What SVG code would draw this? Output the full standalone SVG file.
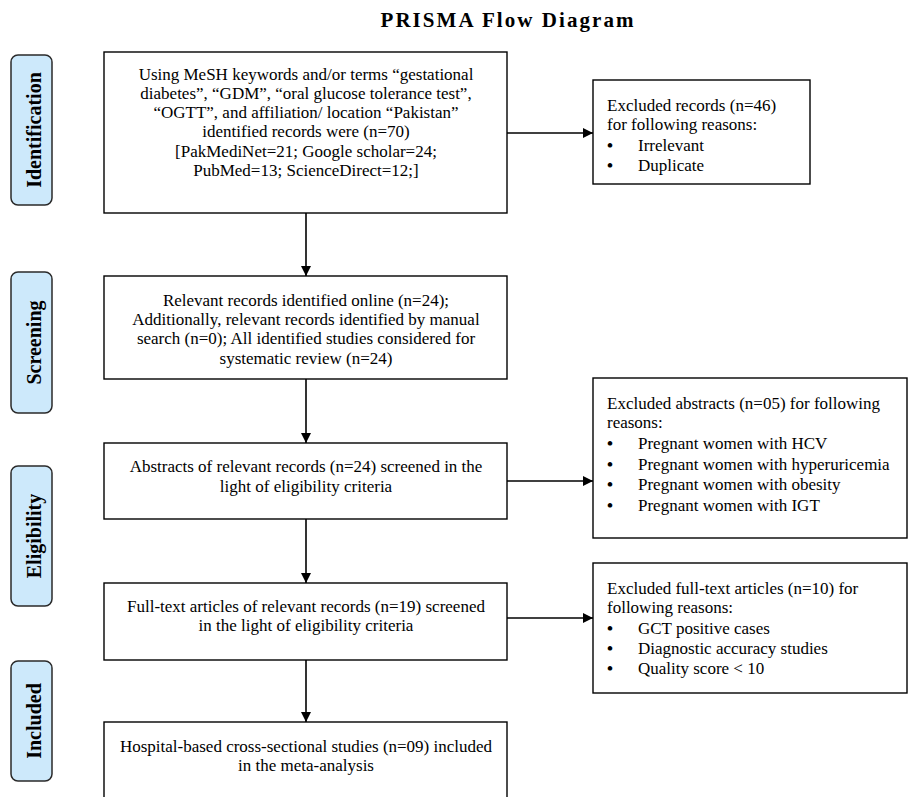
<svg xmlns="http://www.w3.org/2000/svg" width="908" height="797" viewBox="0 0 908 797">
<style>
.box{fill:#fff;stroke:#000;stroke-width:1.4}
.lab{fill:#cde9fb;stroke:#2a2a2a;stroke-width:1.5}
.t{font-family:"Liberation Serif","Times New Roman",serif;font-size:17px;fill:#000}
.b{font-family:"Liberation Serif","Times New Roman",serif;font-size:17px;font-weight:bold;fill:#000}
.c{text-anchor:middle}
.side{font-family:"Liberation Serif","Times New Roman",serif;font-size:20px;font-weight:bold;fill:#000;text-anchor:middle}
.title{font-family:"Liberation Serif","Times New Roman",serif;font-size:21px;font-weight:bold;fill:#000;text-anchor:middle}
.con line{stroke:#000;stroke-width:1.6;marker-end:url(#ah)}
</style>
<defs>
<marker id="ah" markerUnits="userSpaceOnUse" markerWidth="11" markerHeight="11" refX="10" refY="5" orient="auto">
<path d="M0,0 L10,5 L0,10 z" fill="#000"/>
</marker>
</defs>
<rect width="908" height="797" fill="#fff"/>
<text class="title" x="507" y="27" textLength="253" lengthAdjust="spacing">PRISMA Flow Diagram</text>

<g id="lab-identification"><rect class="lab" x="11" y="55" width="41" height="150" rx="7"/><text class="side" transform="translate(41,130) rotate(-90)">Identification</text></g>
<g id="lab-screening"><rect class="lab" x="11" y="272" width="41" height="141" rx="7"/><text class="side" transform="translate(41,342.5) rotate(-90)">Screening</text></g>
<g id="lab-eligibility"><rect class="lab" x="11" y="466" width="41" height="140" rx="7"/><text class="side" transform="translate(41,536) rotate(-90)">Eligibility</text></g>
<g id="lab-included"><rect class="lab" x="11" y="661" width="41" height="120" rx="7"/><text class="side" transform="translate(41,721) rotate(-90)">Included</text></g>

<g id="n-identified"><rect class="box" x="104" y="52" width="403" height="161"/>
<text class="t c" x="306" y="80">Using MeSH keywords and/or terms “gestational</text>
<text class="t c" x="306" y="99">diabetes”, “GDM”, “oral glucose tolerance test”,</text>
<text class="t c" x="306" y="118">“OGTT”, and affiliation/ location “Pakistan”</text>
<text class="t c" x="306" y="137">identified records were (n=70)</text>
<text class="t c" x="306" y="157">[PakMediNet=21; Google scholar=24;</text>
<text class="t c" x="306" y="176">PubMed=13; ScienceDirect=12;]</text>
</g>

<g id="n-excl-records"><rect class="box" x="593" y="80" width="217" height="104"/>
<text class="t" x="607" y="111">Excluded records (n=46)</text>
<text class="t" x="607" y="130">for following reasons:</text>
<text class="b" x="607" y="151">•</text><text class="t" x="638" y="151">Irrelevant</text>
<text class="b" x="607" y="171">•</text><text class="t" x="638" y="171">Duplicate</text>
</g>

<g id="n-screening"><rect class="box" x="104" y="276" width="403" height="103"/>
<text class="t c" x="306" y="306">Relevant records identified online (n=24);</text>
<text class="t c" x="306" y="325">Additionally, relevant records identified by manual</text>
<text class="t c" x="306" y="344">search (n=0); All identified studies considered for</text>
<text class="t c" x="306" y="364">systematic review (n=24)</text>
</g>

<g id="n-abstracts"><rect class="box" x="104" y="443" width="403" height="76"/>
<text class="t c" x="306" y="472">Abstracts of relevant records (n=24) screened in the</text>
<text class="t c" x="306" y="492">light of eligibility criteria</text>
</g>

<g id="n-excl-abstracts"><rect class="box" x="593" y="378" width="314" height="160"/>
<text class="t" x="607" y="409">Excluded abstracts (n=05) for following</text>
<text class="t" x="607" y="428">reasons:</text>
<text class="b" x="607" y="449">•</text><text class="t" x="638" y="449">Pregnant women with HCV</text>
<text class="b" x="607" y="470">•</text><text class="t" x="638" y="470">Pregnant women with hyperuricemia</text>
<text class="b" x="607" y="490">•</text><text class="t" x="638" y="490">Pregnant women with obesity</text>
<text class="b" x="607" y="511">•</text><text class="t" x="638" y="511">Pregnant women with IGT</text>
</g>

<g id="n-fulltext"><rect class="box" x="104" y="583" width="403" height="77"/>
<text class="t c" x="306" y="612">Full-text articles of relevant records (n=19) screened</text>
<text class="t c" x="306" y="631">in the light of eligibility criteria</text>
</g>

<g id="n-excl-fulltext"><rect class="box" x="593" y="563" width="314" height="130"/>
<text class="t" x="607" y="594">Excluded full-text articles (n=10) for</text>
<text class="t" x="607" y="613">following reasons:</text>
<text class="b" x="607" y="634">•</text><text class="t" x="638" y="634">GCT positive cases</text>
<text class="b" x="607" y="654">•</text><text class="t" x="638" y="654">Diagnostic accuracy studies</text>
<text class="b" x="607" y="674">•</text><text class="t" x="638" y="674">Quality score &lt; 10</text>
</g>

<g id="n-included"><rect class="box" x="104" y="722" width="403" height="90"/>
<text class="t c" x="306" y="752">Hospital-based cross-sectional studies (n=09) included</text>
<text class="t c" x="306" y="771">in the meta-analysis</text>
</g>

<g id="connectors" class="con">
<line x1="306" y1="213" x2="306" y2="276"/>
<line x1="306" y1="379" x2="306" y2="443"/>
<line x1="306" y1="519" x2="306" y2="583"/>
<line x1="306" y1="660" x2="306" y2="722"/>
<line x1="507" y1="133" x2="593" y2="133"/>
<line x1="507" y1="481" x2="593" y2="481"/>
<line x1="507" y1="618" x2="593" y2="618"/>
</g>
</svg>
